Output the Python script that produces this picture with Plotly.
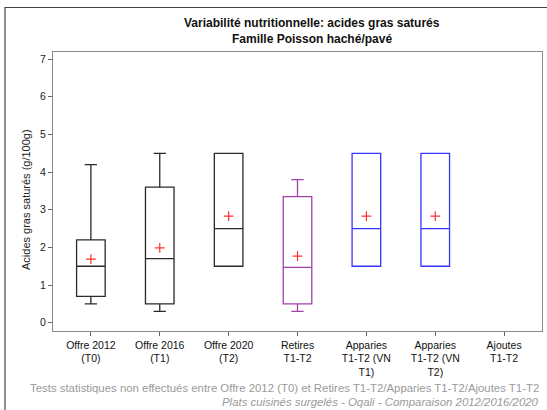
import plotly.graph_objects as go

categories = ["Offre 2012 (T0)", "Offre 2016 (T1)", "Offre 2020 (T2)", "Retires T1-T2",
              "Apparies T1-T2 (VN T1)", "Apparies T1-T2 (VN T2)", "Ajoutes T1-T2"]
tick_labels = ["Offre 2012<br>(T0)", "Offre 2016<br>(T1)", "Offre 2020<br>(T2)", "Retires<br>T1-T2",
               "Apparies<br>T1-T2 (VN<br>T1)", "Apparies<br>T1-T2 (VN<br>T2)", "Ajoutes<br>T1-T2"]
box_cats = categories[:6]
lower = [0.5, 0.3, 1.5, 0.3, 1.5, 1.5]
q1 = [0.7, 0.5, 1.5, 0.5, 1.5, 1.5]
median = [1.5, 1.7, 2.5, 1.47, 2.5, 2.5]
q3 = [2.2, 3.6, 4.5, 3.35, 4.5, 4.5]
upper = [4.2, 4.5, 4.5, 3.8, 4.5, 4.5]
means = [1.69, 1.99, 2.83, 1.77, 2.83, 2.83]
colors = ["#2a2a2a", "#2a2a2a", "#2a2a2a", "#a040a8", "#3535ff", "#3535ff"]

FONT = "Arial, Liberation Sans, sans-serif"

fig = go.Figure()
for i, c in enumerate(box_cats):
    fig.add_trace(go.Box(
        x=[c], q1=[q1[i]], median=[median[i]], q3=[q3[i]],
        lowerfence=[lower[i]], upperfence=[upper[i]],
        width=0.415, whiskerwidth=0.43,
        line=dict(color=colors[i], width=1.3),
        fillcolor="rgba(0,0,0,0)", boxpoints=False, showlegend=False,
        hoverinfo="skip",
    ))
fig.add_trace(go.Scatter(
    x=box_cats, y=means, mode="markers",
    marker=dict(symbol="cross-thin", size=7, line=dict(color="#ff3030", width=1.2)),
    showlegend=False, hoverinfo="skip",
))

L, R, T, B = 53, 542, 52, 331
W, H = 547, 410
def px(x):
    return (x - L) / (R - L)
def py(y):
    return (B - y) / (B - T)

fig.update_layout(
    width=W, height=H,
    margin=dict(l=L, r=W - R, t=T, b=H - B, pad=0),
    paper_bgcolor="white", plot_bgcolor="white",
    boxmode="overlay",
    font=dict(family=FONT, size=11, color="#222"),
    xaxis=dict(
        type="category", categoryorder="array", categoryarray=categories,
        tickvals=categories, ticktext=tick_labels,
        range=[-0.55, 6.55], showgrid=False, zeroline=False,
        showline=True, linecolor="#888", linewidth=1.3, mirror=True,
        ticks="outside", ticklen=4, tickcolor="#666", tickwidth=1,
        tickfont=dict(size=10.5, color="#111"),
    ),
    yaxis=dict(
        range=[-0.22, 7.19], tickvals=[0, 1, 2, 3, 4, 5, 6, 7],
        showgrid=False, zeroline=False,
        showline=True, linecolor="#888", linewidth=1.3, mirror=True,
        ticks="outside", ticklen=4, tickcolor="#666", tickwidth=1,
        tickfont=dict(size=10.5, color="#222"),
    ),
    shapes=[
        dict(type="rect", xref="paper", yref="paper",
             x0=px(5), x1=px(620), y0=py(460), y1=py(7.5),
             line=dict(color="#444", width=1.2), fillcolor="rgba(0,0,0,0)", layer="below"),
    ],
    annotations=[
        dict(text="<b>Variabilité nutritionnelle: acides gras saturés</b>", xref="paper", yref="paper",
             x=px(312), y=py(23), xanchor="center", yanchor="middle", showarrow=False,
             font=dict(size=12, color="#111")),
        dict(text="<b>Famille Poisson haché/pavé</b>", xref="paper", yref="paper",
             x=px(312), y=py(39), xanchor="center", yanchor="middle", showarrow=False,
             font=dict(size=12, color="#111")),
        dict(text="Acides gras saturés (g/100g)", xref="paper", yref="paper",
             x=px(26), y=py(200), xanchor="center", yanchor="middle", textangle=-90,
             showarrow=False, font=dict(size=11, color="#222")),
        dict(text="Tests statistiques non effectués entre Offre 2012 (T0) et Retires T1-T2/Apparies T1-T2/Ajoutes T1-T2",
             xref="paper", yref="paper", x=px(541), y=py(388), xanchor="right", yanchor="middle",
             showarrow=False, font=dict(size=11.4, color="#9a9a9a")),
        dict(text="<i>Plats cuisinés surgelés - Oqali - Comparaison 2012/2016/2020</i>",
             xref="paper", yref="paper", x=px(541), y=py(402), xanchor="right", yanchor="middle",
             showarrow=False, font=dict(size=11.4, color="#9a9a9a")),
    ],
)

fig.write_html("out.html", config={"displayModeBar": False},
               post_script="document.body.style.margin='0';document.body.style.overflow='hidden';")
